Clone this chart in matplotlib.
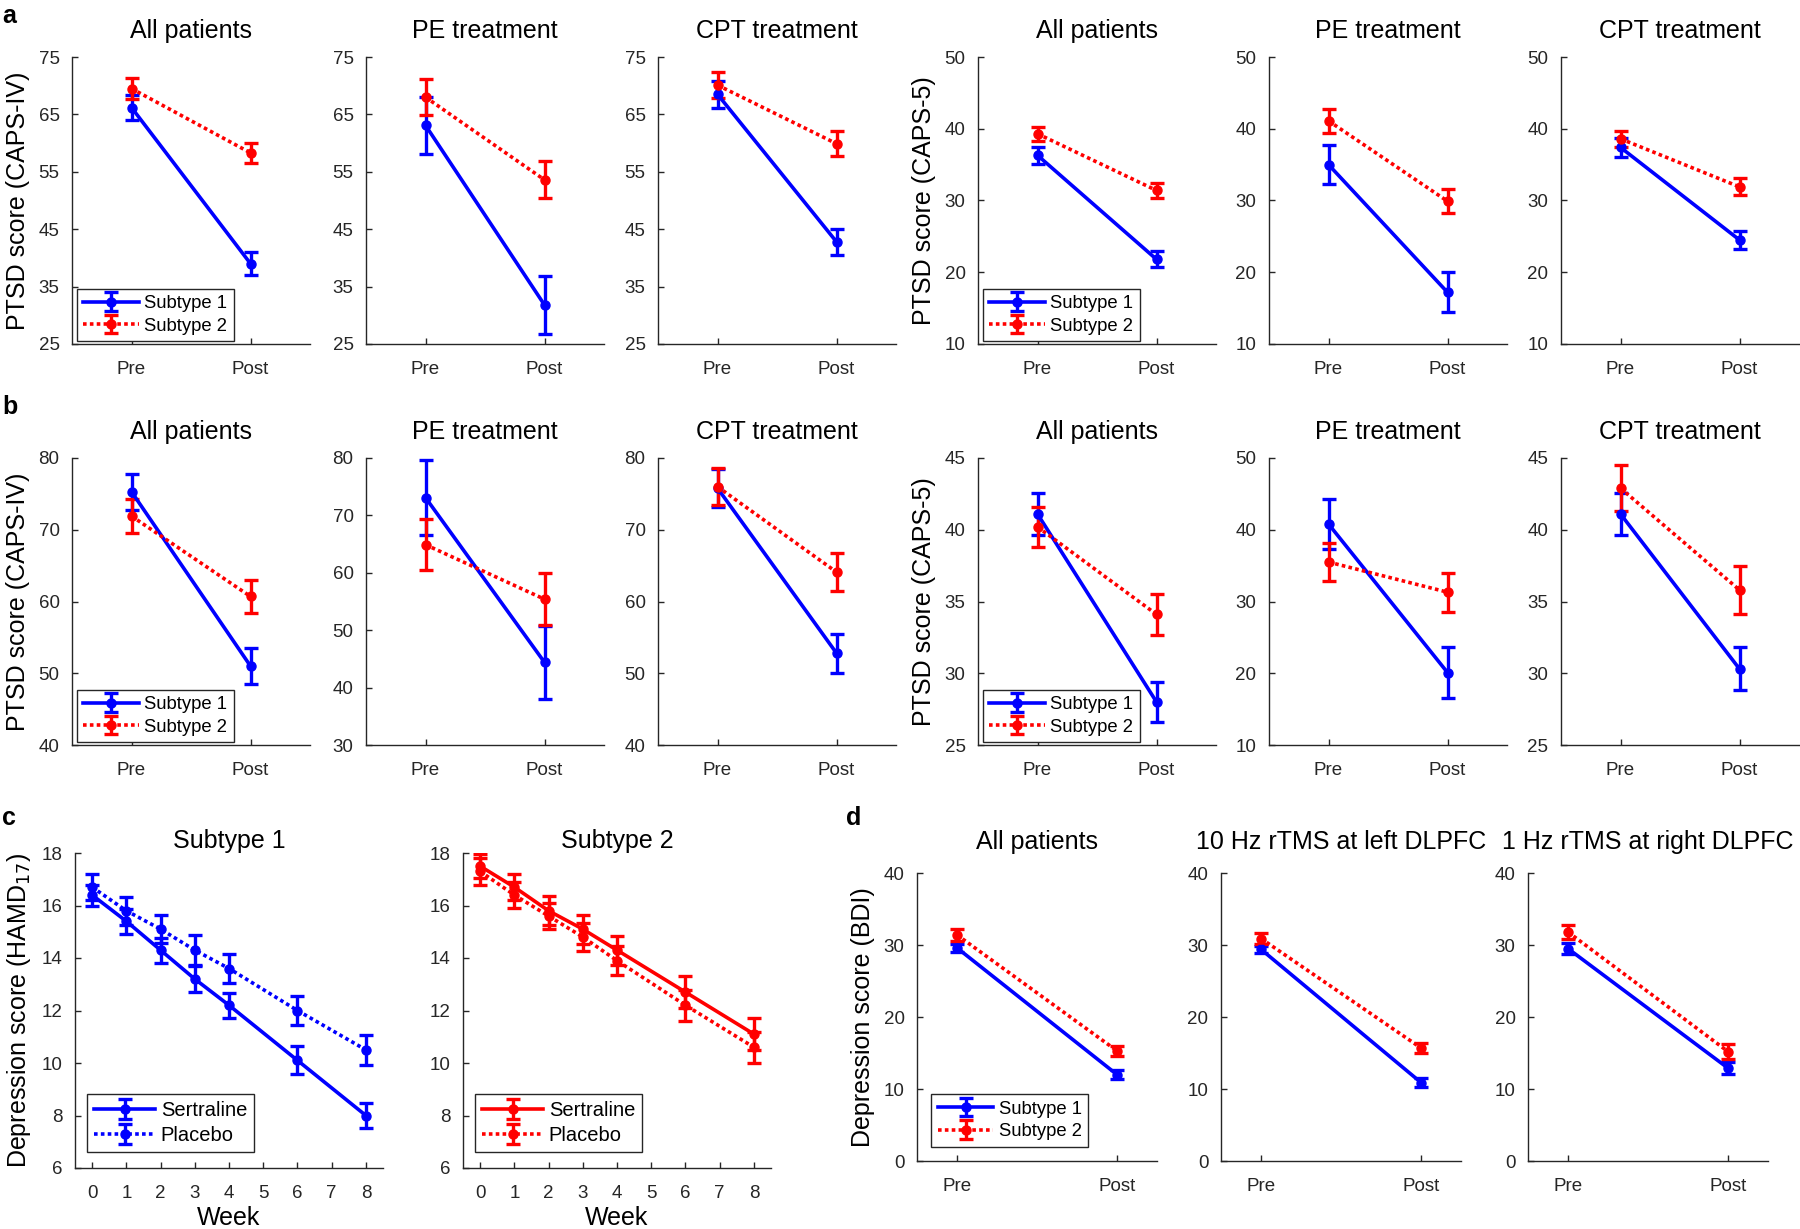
import numpy as np
import matplotlib
matplotlib.use("Agg")
import matplotlib.pyplot as plt

plt.rcParams["font.family"] = ["Liberation Sans", "DejaVu Sans"]

W, H = 1800, 1229
BLUE = (0, 0, 1)
RED = (1, 0, 0)
AXC = (0.15, 0.15, 0.15)
DOT = (0, (1.0, 0.9))

# ---------------------------------------------------------------- data
titles_ptsd = ["All patients", "PE treatment", "CPT treatment"]
titles_rtms = ["All patients", "10 Hz rTMS at left DLPFC", "1 Hz rTMS at right DLPFC"]
prepost = ["Pre", "Post"]

# row a, CAPS-IV
a_iv_s1 = [[66.2, 39.0], [63.1, 31.8], [68.5, 42.8]]
a_iv_s1_err = [[2.2, 2.0], [5.0, 5.0], [2.3, 2.3]]
a_iv_s2 = [[69.5, 58.3], [68.0, 53.6], [70.1, 59.9]]
a_iv_s2_err = [[1.8, 1.8], [3.1, 3.2], [2.2, 2.2]]
a_iv_ylim = [(25, 75), (25, 75), (25, 75)]

# row a, CAPS-5
a_5_s1 = [[36.3, 21.8], [35.0, 17.2], [37.4, 24.5]]
a_5_s1_err = [[1.2, 1.1], [2.7, 2.8], [1.3, 1.3]]
a_5_s2 = [[39.3, 31.4], [41.1, 29.9], [38.6, 31.9]]
a_5_s2_err = [[1.0, 1.1], [1.7, 1.7], [1.1, 1.2]]
a_5_ylim = [(10, 50), (10, 50), (10, 50)]

# row b, CAPS-IV
b_iv_s1 = [[75.3, 51.0], [73.1, 44.4], [75.8, 52.8]]
b_iv_s1_err = [[2.5, 2.5], [6.6, 6.4], [2.6, 2.7]]
b_iv_s2 = [[71.9, 60.7], [64.9, 55.4], [76.0, 64.1]]
b_iv_s2_err = [[2.4, 2.3], [4.4, 4.5], [2.6, 2.6]]
b_iv_ylim = [(40, 80), (30, 80), (40, 80)]

# row b, CAPS-5
b_5_s1 = [[41.1, 28.0], [40.8, 20.1], [41.1, 30.3]]
b_5_s1_err = [[1.45, 1.4], [3.55, 3.55], [1.45, 1.5]]
b_5_s2 = [[40.2, 34.1], [35.5, 31.3], [42.9, 35.8]]
b_5_s2_err = [[1.4, 1.45], [2.7, 2.7], [1.6, 1.65]]
b_5_ylim = [(25, 45), (10, 50), (25, 45)]

# row c, HAMD17 by week
weeks = [0, 1, 2, 3, 4, 6, 8]
c_s1_sert = [16.4, 15.4, 14.3, 13.2, 12.2, 10.1, 8.0]
c_s1_sert_err = [0.4, 0.48, 0.48, 0.5, 0.48, 0.53, 0.48]
c_s1_plac = [16.7, 15.8, 15.1, 14.3, 13.6, 12.0, 10.5]
c_s1_plac_err = [0.5, 0.54, 0.54, 0.56, 0.57, 0.57, 0.57]
c_s2_sert = [17.5, 16.7, 15.8, 15.1, 14.3, 12.7, 11.1]
c_s2_sert_err = [0.45, 0.5, 0.55, 0.55, 0.55, 0.6, 0.6]
c_s2_plac = [17.3, 16.4, 15.6, 14.8, 13.9, 12.2, 10.6]
c_s2_plac_err = [0.5, 0.5, 0.5, 0.55, 0.55, 0.6, 0.6]

# row d, BDI
d_s1 = [[29.6, 12.0], [29.4, 10.9], [29.5, 12.9]]
d_s1_err = [[0.6, 0.6], [0.5, 0.6], [0.8, 0.8]]
d_s2 = [[31.4, 15.3], [30.9, 15.7], [31.8, 15.2]]
d_s2_err = [[0.8, 0.7], [0.8, 0.7], [1.0, 1.0]]

fig = plt.figure(figsize=(W / 100, H / 100), dpi=100)


def add_ax(left, top, width, height):
    return fig.add_axes([left / W, 1 - (top + height) / H, width / W, height / H])


def style(ax):
    for s in ("top", "right"):
        ax.spines[s].set_visible(False)
    for s in ("left", "bottom"):
        ax.spines[s].set_color(AXC)
        ax.spines[s].set_linewidth(1.0)
    ax.tick_params(direction="in", length=4, width=1, color=AXC,
                   labelcolor=AXC, labelsize=13.5, pad=9)
    ax.tick_params(axis="x", pad=12)


def eb(ax, x, y, e, color, ls, label, cap=5):
    return ax.errorbar(x, y, yerr=e, color=color, ls=ls, lw=2.6,
                       marker="o", ms=6.5, capsize=cap, capthick=2.4,
                       elinewidth=2.4, label=label)


def prepost_panel(ax, s1, s1e, s2, s2e, ylim, title, xlim=(0.5, 2.5), tpad=12):
    x = [1, 2]
    eb(ax, x, s1, s1e, BLUE, "-", "Subtype 1")
    eb(ax, x, s2, s2e, RED, DOT, "Subtype 2")
    ax.set_xlim(*xlim)
    ax.set_ylim(*ylim)
    step = 5 if ylim[1] - ylim[0] <= 20 else 10
    ax.set_yticks(np.arange(ylim[0], ylim[1] + 0.1, step))
    ax.set_xticks(x)
    ax.set_xticklabels(prepost)
    ax.set_title(title, fontsize=18, pad=tpad)
    style(ax)


def legend(ax, x0, y0, fs=13.3):
    leg = ax.legend(loc="lower left", bbox_to_anchor=(x0, y0), fontsize=fs,
                    frameon=True, fancybox=False, framealpha=1,
                    edgecolor=AXC, handlelength=3.0, handletextpad=0.3,
                    borderpad=0.35, labelspacing=0.3, borderaxespad=0)
    leg.get_frame().set_linewidth(1.0)


lefts = [72, 366, 658, 978, 1269, 1561]
pw = 238

rows = [
    (57, [(a_iv_s1, a_iv_s1_err, a_iv_s2, a_iv_s2_err, a_iv_ylim, "PTSD score (CAPS-IV)"),
          (a_5_s1, a_5_s1_err, a_5_s2, a_5_s2_err, a_5_ylim, "PTSD score (CAPS-5)")]),
    (458, [(b_iv_s1, b_iv_s1_err, b_iv_s2, b_iv_s2_err, b_iv_ylim, "PTSD score (CAPS-IV)"),
           (b_5_s1, b_5_s1_err, b_5_s2, b_5_s2_err, b_5_ylim, "PTSD score (CAPS-5)")]),
]
for top, groups in rows:
    for g, (s1, s1e, s2, s2e, ylims, ylab) in enumerate(groups):
        for k in range(3):
            ax = add_ax(lefts[3 * g + k], top, pw, 287)
            prepost_panel(ax, s1[k], s1e[k], s2[k], s2e[k], ylims[k], titles_ptsd[k],
                          tpad=14)
            if k == 0:
                ax.set_ylabel(ylab, fontsize=18, labelpad=6)
                legend(ax, 0.02, 0.01)

# row c
for k, (sert, sert_e, plac, plac_e, col, ttl) in enumerate([
        (c_s1_sert, c_s1_sert_err, c_s1_plac, c_s1_plac_err, BLUE, "Subtype 1"),
        (c_s2_sert, c_s2_sert_err, c_s2_plac, c_s2_plac_err, RED, "Subtype 2")]):
    ax = add_ax([75, 463][k], 853, 308, 315)
    eb(ax, weeks, sert, sert_e, col, "-", "Sertraline", cap=5)
    eb(ax, weeks, plac, plac_e, col, DOT, "Placebo", cap=5)
    ax.set_xlim(-0.5, 8.5)
    ax.set_ylim(6, 18)
    ax.set_yticks(np.arange(6, 19, 2))
    ax.set_xticks(np.arange(0, 9))
    ax.set_title(ttl, fontsize=18, pad=3)
    style(ax)
    ax.set_xlabel("Week", fontsize=18, labelpad=3)
    if k == 0:
        ax.set_ylabel("Depression score (HAMD$_{17}$)", fontsize=18, labelpad=6)
    legend(ax, 0.04, 0.05, fs=14.5)

# row d
for k, left in enumerate([917, 1221, 1528]):
    ax = add_ax(left, 873, 240, 288)
    prepost_panel(ax, d_s1[k], d_s1_err[k], d_s2[k], d_s2_err[k], (0, 40),
                  titles_rtms[k], xlim=(0.75, 2.25), tpad=17)
    if k == 0:
        ax.set_ylabel("Depression score (BDI)", fontsize=18, labelpad=6)
        legend(ax, 0.06, 0.05)

for lab, x, y in [("a", 2, 4), ("b", 2, 395), ("c", 2, 806), ("d", 846, 806)]:
    fig.text(x / W, 1 - y / H, lab, fontsize=18, fontweight="bold", va="top", ha="left")

fig.savefig("out.png", dpi=100)
